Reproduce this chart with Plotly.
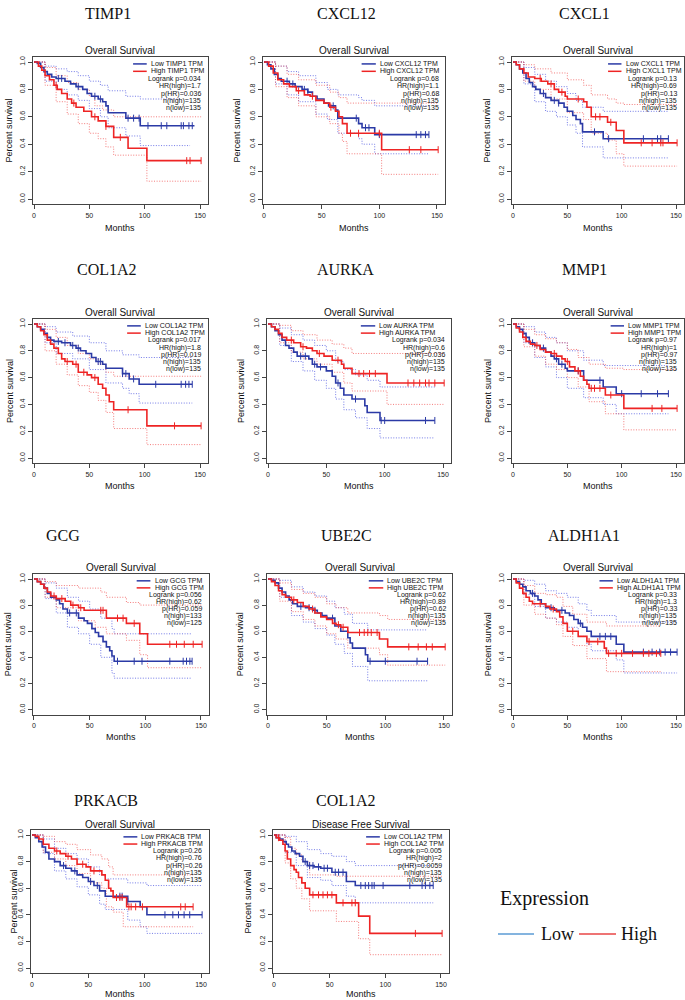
import plotly.graph_objects as go

# ---------------- data ----------------
GENES = ["TIMP1", "CXCL12", "CXCL1", "COL1A2", "AURKA", "MMP1",
         "GCG", "UBE2C", "ALDH1A1", "PRKACB", "COL1A2"]
SUBTITLES = ["Overall Survival"] * 10 + ["Disease Free Survival"]
LOGRANK_P = ["0.034", "0.68", "0.13", "0.017", "0.034", "0.97",
             "0.056", "0.62", "0.33", "0.26", "0.005"]
HR_HIGH = ["1.7", "1.1", "0.69", "1.8", "0.6", "1", "0.62", "0.89", "1.3", "0.76", "2"]
P_HR = ["0.036", "0.68", "0.13", "0.019", "0.036", "0.97",
        "0.059", "0.62", "0.33", "0.26", "0.0059"]
N_HIGH = [135, 135, 135, 135, 135, 135, 133, 135, 135, 135, 135]
N_LOW = [135, 135, 135, 135, 135, 135, 125, 135, 135, 135, 135]
X_TICKS = [0, 50, 100, 150]
Y_TICKS = [0.0, 0.2, 0.4, 0.6, 0.8, 1.0]
Y_TICKTEXT = ["0.0", "0.2", "0.4", "0.6", "0.8", "1.0"]
LEGEND_LABELS = ["Low", "High"]

# each curve: (months, survival) change points, last point = end of follow-up
TIMP1_LOW = [(0, 1), (3, 0.99), (6, 0.96), (9, 0.93), (12, 0.91), (16, 0.89), (20, 0.88), (28, 0.86), (33, 0.84), (38, 0.82), (44, 0.8), (48, 0.77), (52, 0.75), (58, 0.73), (62, 0.71), (65, 0.68), (67, 0.63), (83, 0.59), (96, 0.535), (145, 0.535)]
TIMP1_LOW_CENS = [22, 25, 40, 55, 60, 85, 90, 95, 103, 115, 120, 133, 135, 140, 143]
TIMP1_LOW_UP = [(0, 1), (10, 0.97), (20, 0.95), (30, 0.93), (40, 0.9), (50, 0.86), (60, 0.83), (67, 0.79), (83, 0.75), (96, 0.73), (132, 0.73)]
TIMP1_LOW_DN = [(0, 1), (10, 0.86), (20, 0.8), (30, 0.76), (40, 0.72), (50, 0.66), (60, 0.6), (67, 0.52), (83, 0.46), (96, 0.39), (141, 0.39)]
TIMP1_HIGH = [(0, 1), (4, 0.97), (7, 0.94), (10, 0.9), (14, 0.87), (18, 0.83), (21, 0.8), (25, 0.77), (30, 0.73), (34, 0.7), (38, 0.67), (45, 0.64), (52, 0.6), (58, 0.57), (65, 0.53), (72, 0.45), (85, 0.37), (102, 0.28), (151, 0.28)]
TIMP1_HIGH_CENS = [20, 36, 55, 65, 78, 138, 141, 151]
TIMP1_HIGH_UP = [(0, 1), (10, 0.96), (20, 0.9), (30, 0.85), (40, 0.8), (50, 0.75), (55, 0.68), (62, 0.65), (72, 0.6), (151, 0.6)]
TIMP1_HIGH_DN = [(0, 1), (10, 0.83), (20, 0.71), (30, 0.62), (40, 0.55), (50, 0.48), (58, 0.44), (65, 0.38), (72, 0.32), (102, 0.13), (151, 0.13)]

CXCL12_LOW = [(0, 1), (3, 0.98), (6, 0.95), (9, 0.91), (12, 0.88), (15, 0.86), (22, 0.84), (27, 0.82), (33, 0.8), (38, 0.78), (42, 0.75), (46, 0.73), (52, 0.7), (56, 0.68), (62, 0.65), (64, 0.59), (82, 0.55), (85, 0.52), (96, 0.47), (143, 0.47)]
CXCL12_LOW_CENS = [20, 25, 35, 38, 60, 80, 88, 91, 100, 132, 136, 140, 143]
CXCL12_LOW_UP = [(0, 1), (10, 0.97), (20, 0.93), (30, 0.9), (45, 0.85), (55, 0.8), (64, 0.76), (82, 0.74), (85, 0.72), (96, 0.68), (143, 0.68)]
CXCL12_LOW_DN = [(0, 1), (10, 0.84), (20, 0.76), (30, 0.71), (45, 0.62), (55, 0.58), (64, 0.48), (82, 0.44), (85, 0.4), (96, 0.33), (143, 0.33)]
CXCL12_HIGH = [(0, 1), (4, 0.97), (8, 0.92), (12, 0.87), (17, 0.84), (22, 0.82), (28, 0.79), (35, 0.76), (40, 0.75), (45, 0.72), (52, 0.7), (57, 0.67), (62, 0.64), (65, 0.6), (68, 0.55), (72, 0.48), (102, 0.36), (151, 0.36)]
CXCL12_HIGH_CENS = [30, 42, 58, 75, 82, 100, 126, 136, 151]
CXCL12_HIGH_UP = [(0, 1), (10, 0.97), (20, 0.91), (30, 0.87), (45, 0.83), (57, 0.78), (65, 0.74), (72, 0.7), (151, 0.7)]
CXCL12_HIGH_DN = [(0, 1), (10, 0.82), (20, 0.74), (30, 0.68), (45, 0.6), (57, 0.55), (65, 0.48), (68, 0.42), (72, 0.33), (102, 0.18), (151, 0.18)]

CXCL1_LOW = [(0, 1), (3, 0.98), (6, 0.95), (9, 0.92), (12, 0.88), (15, 0.85), (18, 0.82), (21, 0.8), (25, 0.77), (30, 0.74), (35, 0.72), (42, 0.7), (47, 0.67), (50, 0.64), (55, 0.61), (58, 0.58), (62, 0.55), (64, 0.49), (83, 0.44), (143, 0.44)]
CXCL1_LOW_CENS = [28, 38, 42, 75, 88, 120, 133, 136, 143]
CXCL1_LOW_UP = [(0, 1), (10, 0.96), (20, 0.91), (30, 0.86), (40, 0.82), (50, 0.77), (58, 0.72), (64, 0.67), (83, 0.64), (143, 0.64)]
CXCL1_LOW_DN = [(0, 1), (10, 0.84), (20, 0.71), (30, 0.64), (40, 0.6), (50, 0.54), (58, 0.48), (64, 0.38), (83, 0.3), (143, 0.3)]
CXCL1_HIGH = [(0, 1), (3, 0.98), (6, 0.95), (10, 0.92), (14, 0.89), (20, 0.88), (26, 0.86), (32, 0.84), (38, 0.8), (42, 0.78), (48, 0.75), (50, 0.73), (65, 0.71), (68, 0.67), (72, 0.6), (87, 0.56), (95, 0.5), (102, 0.41), (151, 0.41)]
CXCL1_HIGH_CENS = [25, 35, 45, 60, 76, 80, 90, 118, 128, 136, 138, 151]
CXCL1_HIGH_UP = [(0, 1), (10, 0.98), (20, 0.95), (35, 0.92), (50, 0.87), (65, 0.83), (72, 0.76), (87, 0.73), (95, 0.7), (102, 0.69), (151, 0.69)]
CXCL1_HIGH_DN = [(0, 1), (10, 0.86), (20, 0.8), (35, 0.73), (50, 0.63), (65, 0.58), (72, 0.48), (87, 0.43), (95, 0.33), (102, 0.24), (151, 0.24)]

COL1A2_OS_LOW = [(0, 1), (3, 0.98), (6, 0.96), (9, 0.93), (12, 0.9), (15, 0.88), (18, 0.87), (25, 0.86), (33, 0.84), (38, 0.82), (42, 0.8), (47, 0.78), (52, 0.75), (56, 0.72), (62, 0.7), (65, 0.67), (80, 0.63), (86, 0.59), (95, 0.55), (143, 0.55)]
COL1A2_OS_LOW_CENS = [22, 28, 35, 40, 58, 60, 80, 83, 90, 110, 133, 137, 140, 143]
COL1A2_OS_LOW_UP = [(0, 1), (10, 0.98), (20, 0.94), (35, 0.91), (50, 0.86), (65, 0.8), (80, 0.77), (95, 0.75), (143, 0.75)]
COL1A2_OS_LOW_DN = [(0, 1), (10, 0.86), (20, 0.78), (35, 0.74), (50, 0.66), (65, 0.56), (80, 0.52), (86, 0.48), (95, 0.41), (143, 0.41)]
COL1A2_OS_HIGH = [(0, 1), (3, 0.98), (6, 0.95), (9, 0.92), (12, 0.88), (15, 0.85), (18, 0.82), (22, 0.78), (25, 0.74), (28, 0.72), (35, 0.7), (40, 0.64), (48, 0.62), (52, 0.6), (58, 0.55), (62, 0.52), (65, 0.47), (68, 0.42), (72, 0.36), (102, 0.24), (151, 0.24)]
COL1A2_OS_HIGH_CENS = [30, 38, 45, 55, 85, 127, 151]
COL1A2_OS_HIGH_UP = [(0, 1), (10, 0.96), (20, 0.9), (30, 0.84), (40, 0.78), (50, 0.74), (58, 0.7), (65, 0.64), (72, 0.61), (151, 0.61)]
COL1A2_OS_HIGH_DN = [(0, 1), (10, 0.8), (20, 0.7), (30, 0.62), (40, 0.54), (50, 0.49), (58, 0.43), (65, 0.34), (72, 0.22), (102, 0.1), (151, 0.1)]

AURKA_LOW = [(0, 1), (3, 0.98), (6, 0.95), (9, 0.92), (12, 0.88), (15, 0.84), (18, 0.82), (22, 0.79), (25, 0.76), (35, 0.74), (38, 0.7), (42, 0.68), (50, 0.65), (55, 0.61), (58, 0.56), (62, 0.52), (65, 0.47), (72, 0.44), (83, 0.39), (85, 0.34), (96, 0.28), (143, 0.28)]
AURKA_LOW_CENS = [28, 32, 40, 45, 60, 75, 97, 100, 135, 143]
AURKA_LOW_UP = [(0, 1), (10, 0.97), (20, 0.92), (30, 0.88), (40, 0.84), (50, 0.8), (58, 0.72), (65, 0.66), (75, 0.62), (85, 0.58), (96, 0.53), (143, 0.53)]
AURKA_LOW_DN = [(0, 1), (10, 0.84), (20, 0.72), (30, 0.65), (40, 0.58), (50, 0.52), (58, 0.44), (65, 0.36), (75, 0.3), (85, 0.22), (96, 0.15), (143, 0.15)]
AURKA_HIGH = [(0, 1), (3, 0.98), (6, 0.96), (9, 0.93), (12, 0.9), (16, 0.88), (22, 0.86), (28, 0.83), (33, 0.82), (38, 0.8), (42, 0.78), (48, 0.76), (55, 0.73), (63, 0.7), (65, 0.67), (72, 0.63), (102, 0.56), (151, 0.56)]
AURKA_HIGH_CENS = [20, 30, 44, 60, 78, 82, 87, 92, 120, 125, 130, 135, 138, 143, 151]
AURKA_HIGH_UP = [(0, 1), (10, 0.99), (20, 0.95), (30, 0.92), (42, 0.88), (55, 0.85), (65, 0.82), (72, 0.78), (151, 0.78)]
AURKA_HIGH_DN = [(0, 1), (10, 0.86), (20, 0.79), (30, 0.74), (42, 0.7), (55, 0.64), (65, 0.56), (72, 0.5), (102, 0.4), (151, 0.4)]

MMP1_LOW = [(0, 1), (3, 0.98), (6, 0.96), (9, 0.93), (12, 0.9), (15, 0.86), (20, 0.84), (25, 0.82), (30, 0.79), (35, 0.76), (38, 0.74), (42, 0.7), (48, 0.67), (50, 0.65), (65, 0.58), (83, 0.53), (95, 0.48), (143, 0.48)]
MMP1_LOW_CENS = [18, 28, 40, 45, 60, 80, 100, 118, 133, 143]
MMP1_LOW_UP = [(0, 1), (10, 0.98), (20, 0.94), (30, 0.9), (40, 0.86), (50, 0.8), (65, 0.73), (83, 0.69), (143, 0.69)]
MMP1_LOW_DN = [(0, 1), (10, 0.86), (20, 0.75), (30, 0.68), (40, 0.6), (50, 0.52), (65, 0.45), (83, 0.4), (95, 0.33), (143, 0.33)]
MMP1_HIGH = [(0, 1), (3, 0.97), (6, 0.94), (9, 0.9), (12, 0.87), (16, 0.85), (20, 0.84), (25, 0.81), (30, 0.79), (35, 0.78), (40, 0.76), (45, 0.74), (48, 0.72), (52, 0.68), (57, 0.65), (62, 0.61), (65, 0.58), (68, 0.55), (70, 0.52), (85, 0.47), (102, 0.37), (151, 0.37)]
MMP1_HIGH_CENS = [22, 38, 50, 60, 72, 75, 80, 90, 128, 137, 151]
MMP1_HIGH_UP = [(0, 1), (10, 0.96), (20, 0.92), (30, 0.89), (40, 0.86), (50, 0.81), (60, 0.75), (70, 0.7), (85, 0.67), (102, 0.66), (151, 0.66)]
MMP1_HIGH_DN = [(0, 1), (10, 0.83), (20, 0.76), (30, 0.7), (40, 0.66), (50, 0.6), (60, 0.53), (70, 0.42), (85, 0.33), (102, 0.21), (151, 0.21)]

GCG_LOW = [(0, 1), (3, 0.98), (6, 0.96), (9, 0.93), (12, 0.89), (15, 0.86), (20, 0.84), (23, 0.81), (26, 0.77), (30, 0.74), (40, 0.7), (45, 0.68), (48, 0.66), (52, 0.62), (55, 0.59), (58, 0.56), (62, 0.52), (65, 0.48), (68, 0.45), (70, 0.41), (72, 0.37), (142, 0.37)]
GCG_LOW_CENS = [32, 38, 75, 90, 97, 122, 134, 137, 140, 142]
GCG_LOW_UP = [(0, 1), (10, 0.97), (20, 0.93), (30, 0.86), (40, 0.83), (50, 0.77), (60, 0.7), (70, 0.62), (72, 0.58), (142, 0.58)]
GCG_LOW_DN = [(0, 1), (10, 0.85), (20, 0.74), (30, 0.63), (40, 0.58), (50, 0.5), (60, 0.4), (70, 0.28), (72, 0.24), (142, 0.24)]
GCG_HIGH = [(0, 1), (3, 0.98), (6, 0.96), (9, 0.93), (12, 0.9), (15, 0.87), (20, 0.85), (28, 0.83), (33, 0.8), (40, 0.78), (45, 0.76), (65, 0.7), (83, 0.66), (95, 0.58), (102, 0.5), (151, 0.5)]
GCG_HIGH_CENS = [18, 25, 35, 42, 60, 62, 75, 80, 90, 122, 128, 135, 143, 151]
GCG_HIGH_UP = [(0, 1), (10, 0.98), (20, 0.95), (40, 0.93), (60, 0.9), (65, 0.86), (83, 0.82), (95, 0.8), (151, 0.8)]
GCG_HIGH_DN = [(0, 1), (10, 0.86), (20, 0.78), (40, 0.68), (55, 0.63), (65, 0.58), (83, 0.53), (95, 0.42), (102, 0.32), (151, 0.32)]

UBE2C_LOW = [(0, 1), (3, 0.99), (6, 0.97), (9, 0.93), (12, 0.9), (15, 0.87), (18, 0.84), (21, 0.81), (25, 0.79), (32, 0.78), (38, 0.76), (42, 0.74), (46, 0.72), (50, 0.7), (57, 0.64), (62, 0.6), (68, 0.55), (70, 0.51), (72, 0.47), (83, 0.42), (85, 0.37), (136, 0.37)]
UBE2C_LOW_CENS = [28, 35, 40, 55, 87, 100, 127, 136]
UBE2C_LOW_UP = [(0, 1), (10, 0.99), (20, 0.94), (30, 0.9), (40, 0.87), (50, 0.83), (57, 0.78), (65, 0.73), (72, 0.66), (85, 0.61), (136, 0.61)]
UBE2C_LOW_DN = [(0, 1), (10, 0.86), (20, 0.72), (30, 0.67), (40, 0.62), (50, 0.57), (57, 0.5), (65, 0.43), (72, 0.33), (85, 0.22), (136, 0.22)]
UBE2C_HIGH = [(0, 1), (3, 0.98), (6, 0.95), (9, 0.91), (12, 0.88), (15, 0.86), (20, 0.84), (25, 0.82), (30, 0.79), (35, 0.77), (40, 0.74), (45, 0.71), (50, 0.69), (55, 0.66), (58, 0.65), (62, 0.63), (68, 0.59), (95, 0.54), (102, 0.48), (151, 0.48)]
UBE2C_HIGH_CENS = [22, 38, 60, 64, 78, 82, 85, 88, 93, 120, 128, 135, 140, 151]
UBE2C_HIGH_UP = [(0, 1), (10, 0.97), (20, 0.92), (30, 0.89), (40, 0.86), (50, 0.81), (58, 0.78), (68, 0.74), (95, 0.72), (102, 0.69), (151, 0.69)]
UBE2C_HIGH_DN = [(0, 1), (10, 0.83), (20, 0.75), (30, 0.69), (40, 0.64), (50, 0.58), (58, 0.54), (68, 0.47), (95, 0.42), (102, 0.34), (151, 0.34)]

ALDH1A1_LOW = [(0, 1), (3, 0.98), (6, 0.96), (9, 0.94), (12, 0.91), (16, 0.89), (20, 0.87), (23, 0.84), (26, 0.81), (30, 0.78), (38, 0.76), (48, 0.74), (52, 0.72), (56, 0.69), (60, 0.66), (64, 0.63), (68, 0.6), (72, 0.56), (95, 0.5), (102, 0.44), (151, 0.44)]
ALDH1A1_LOW_CENS = [18, 35, 45, 62, 80, 85, 90, 120, 128, 135, 140, 145, 151]
ALDH1A1_LOW_UP = [(0, 1), (10, 0.99), (20, 0.96), (30, 0.91), (40, 0.89), (50, 0.86), (60, 0.81), (68, 0.76), (72, 0.72), (95, 0.67), (151, 0.67)]
ALDH1A1_LOW_DN = [(0, 1), (10, 0.88), (20, 0.79), (30, 0.7), (40, 0.67), (50, 0.63), (60, 0.56), (68, 0.5), (72, 0.45), (95, 0.38), (102, 0.28), (151, 0.28)]
ALDH1A1_HIGH = [(0, 1), (3, 0.97), (6, 0.93), (9, 0.89), (12, 0.86), (15, 0.83), (18, 0.81), (30, 0.79), (34, 0.77), (40, 0.75), (43, 0.71), (46, 0.66), (50, 0.6), (60, 0.56), (68, 0.52), (84, 0.47), (86, 0.43), (136, 0.43)]
ALDH1A1_HIGH_CENS = [25, 37, 55, 70, 78, 88, 95, 100, 110, 120, 125, 132, 136]
ALDH1A1_HIGH_UP = [(0, 1), (10, 0.95), (20, 0.89), (30, 0.88), (40, 0.86), (46, 0.79), (55, 0.73), (68, 0.67), (86, 0.64), (136, 0.64)]
ALDH1A1_HIGH_DN = [(0, 1), (10, 0.8), (20, 0.73), (30, 0.7), (40, 0.65), (46, 0.56), (55, 0.49), (68, 0.39), (86, 0.29), (136, 0.29)]

PRKACB_LOW = [(0, 1), (3, 0.98), (6, 0.95), (9, 0.91), (12, 0.87), (15, 0.82), (20, 0.8), (25, 0.77), (30, 0.75), (35, 0.73), (40, 0.7), (45, 0.68), (50, 0.65), (55, 0.62), (60, 0.58), (65, 0.54), (85, 0.5), (96, 0.46), (102, 0.4), (151, 0.4)]
PRKACB_LOW_CENS = [28, 38, 52, 58, 78, 80, 85, 118, 125, 130, 135, 140, 151]
PRKACB_LOW_UP = [(0, 1), (10, 0.97), (20, 0.9), (30, 0.86), (40, 0.82), (50, 0.76), (60, 0.7), (65, 0.67), (85, 0.64), (102, 0.62), (151, 0.62)]
PRKACB_LOW_DN = [(0, 1), (10, 0.86), (20, 0.73), (30, 0.67), (40, 0.61), (50, 0.55), (60, 0.48), (65, 0.44), (85, 0.36), (96, 0.31), (102, 0.26), (151, 0.26)]
PRKACB_HIGH = [(0, 1), (3, 0.99), (6, 0.97), (10, 0.93), (15, 0.9), (20, 0.88), (25, 0.86), (30, 0.84), (35, 0.82), (40, 0.78), (48, 0.76), (52, 0.73), (62, 0.7), (65, 0.66), (68, 0.6), (70, 0.58), (72, 0.53), (84, 0.46), (143, 0.46)]
PRKACB_HIGH_CENS = [22, 32, 45, 55, 75, 78, 80, 86, 88, 92, 98, 132, 136, 143]
PRKACB_HIGH_UP = [(0, 1), (10, 0.99), (20, 0.95), (30, 0.93), (40, 0.89), (52, 0.85), (62, 0.82), (68, 0.76), (72, 0.7), (143, 0.7)]
PRKACB_HIGH_DN = [(0, 1), (10, 0.87), (20, 0.82), (30, 0.77), (40, 0.71), (52, 0.64), (62, 0.6), (66, 0.46), (72, 0.42), (81, 0.31), (143, 0.31)]

COL1A2_DFS_LOW = [(0, 1), (2, 0.98), (5, 0.97), (8, 0.95), (11, 0.93), (13, 0.91), (16, 0.88), (19, 0.86), (23, 0.84), (26, 0.8), (30, 0.77), (36, 0.76), (42, 0.75), (52, 0.72), (65, 0.65), (73, 0.62), (143, 0.62)]
COL1A2_DFS_LOW_CENS = [28, 32, 35, 40, 45, 48, 55, 58, 62, 78, 82, 85, 88, 90, 98, 122, 133, 136, 140, 143]
COL1A2_DFS_LOW_UP = [(0, 1), (10, 0.99), (20, 0.95), (30, 0.89), (42, 0.86), (52, 0.84), (65, 0.8), (73, 0.77), (143, 0.77)]
COL1A2_DFS_LOW_DN = [(0, 1), (10, 0.87), (20, 0.77), (30, 0.68), (42, 0.66), (52, 0.62), (65, 0.54), (73, 0.49), (143, 0.49)]
COL1A2_DFS_HIGH = [(0, 1), (2, 0.98), (5, 0.96), (8, 0.93), (10, 0.88), (12, 0.82), (15, 0.77), (18, 0.74), (20, 0.72), (22, 0.68), (25, 0.64), (28, 0.6), (32, 0.55), (56, 0.49), (76, 0.39), (86, 0.26), (151, 0.26)]
COL1A2_DFS_HIGH_CENS = [4, 35, 40, 44, 48, 52, 62, 70, 73, 127, 151]
COL1A2_DFS_HIGH_UP = [(0, 1), (10, 0.98), (15, 0.9), (20, 0.85), (25, 0.8), (32, 0.7), (56, 0.69), (151, 0.69)]
COL1A2_DFS_HIGH_DN = [(0, 1), (10, 0.79), (15, 0.67), (20, 0.6), (25, 0.52), (32, 0.43), (56, 0.35), (76, 0.22), (86, 0.1), (151, 0.1)]

LOW = [TIMP1_LOW, CXCL12_LOW, CXCL1_LOW, COL1A2_OS_LOW, AURKA_LOW, MMP1_LOW, GCG_LOW, UBE2C_LOW, ALDH1A1_LOW, PRKACB_LOW, COL1A2_DFS_LOW]
LOW_CENS = [TIMP1_LOW_CENS, CXCL12_LOW_CENS, CXCL1_LOW_CENS, COL1A2_OS_LOW_CENS, AURKA_LOW_CENS, MMP1_LOW_CENS, GCG_LOW_CENS, UBE2C_LOW_CENS, ALDH1A1_LOW_CENS, PRKACB_LOW_CENS, COL1A2_DFS_LOW_CENS]
LOW_UP = [TIMP1_LOW_UP, CXCL12_LOW_UP, CXCL1_LOW_UP, COL1A2_OS_LOW_UP, AURKA_LOW_UP, MMP1_LOW_UP, GCG_LOW_UP, UBE2C_LOW_UP, ALDH1A1_LOW_UP, PRKACB_LOW_UP, COL1A2_DFS_LOW_UP]
LOW_DN = [TIMP1_LOW_DN, CXCL12_LOW_DN, CXCL1_LOW_DN, COL1A2_OS_LOW_DN, AURKA_LOW_DN, MMP1_LOW_DN, GCG_LOW_DN, UBE2C_LOW_DN, ALDH1A1_LOW_DN, PRKACB_LOW_DN, COL1A2_DFS_LOW_DN]
HIGH = [TIMP1_HIGH, CXCL12_HIGH, CXCL1_HIGH, COL1A2_OS_HIGH, AURKA_HIGH, MMP1_HIGH, GCG_HIGH, UBE2C_HIGH, ALDH1A1_HIGH, PRKACB_HIGH, COL1A2_DFS_HIGH]
HIGH_CENS = [TIMP1_HIGH_CENS, CXCL12_HIGH_CENS, CXCL1_HIGH_CENS, COL1A2_OS_HIGH_CENS, AURKA_HIGH_CENS, MMP1_HIGH_CENS, GCG_HIGH_CENS, UBE2C_HIGH_CENS, ALDH1A1_HIGH_CENS, PRKACB_HIGH_CENS, COL1A2_DFS_HIGH_CENS]
HIGH_UP = [TIMP1_HIGH_UP, CXCL12_HIGH_UP, CXCL1_HIGH_UP, COL1A2_OS_HIGH_UP, AURKA_HIGH_UP, MMP1_HIGH_UP, GCG_HIGH_UP, UBE2C_HIGH_UP, ALDH1A1_HIGH_UP, PRKACB_HIGH_UP, COL1A2_DFS_HIGH_UP]
HIGH_DN = [TIMP1_HIGH_DN, CXCL12_HIGH_DN, CXCL1_HIGH_DN, COL1A2_OS_HIGH_DN, AURKA_HIGH_DN, MMP1_HIGH_DN, GCG_HIGH_DN, UBE2C_HIGH_DN, ALDH1A1_HIGH_DN, PRKACB_HIGH_DN, COL1A2_DFS_HIGH_DN]

# ---------------- layout geometry (page pixels) ----------------
W, H = 685, 1000
X0 = [34, 264, 513, 34, 268, 513, 34, 268, 513, 32, 274]
X150 = [200, 437, 676, 200, 443, 676, 201, 444, 676, 201, 441]
ROW_Y1 = [62, 324, 579, 835]
ROW_Y0 = [199, 458, 709.5, 968]
ROW_OF = [0, 0, 0, 1, 1, 1, 2, 2, 2, 3, 3]
GENE_X = [108, 346, 584, 107, 345, 584, 63, 346, 584, 106, 346]
GENE_Y = [13, 269, 535, 800]
SUB_Y = [50, 312, 567, 824]
MONTHS_Y = [228, 486, 737, 994]
YLAB_X = [8, 236, 486, 10, 241, 488, 8, 240, 488, 13, 247]
LEG_LEFT = [0.663, 0.632, 0.65, 0.629, 0.6, 0.665, 0.68, 0.64, 0.6, 0.61, 0.62]

BLUE = "#2b3aa6"
RED = "#ee2424"
BLUE_CI = "rgba(80,90,225,0.8)"
RED_CI = "rgba(240,80,80,0.75)"
SANS = "Liberation Sans"
SERIF = "Liberation Serif"


def px(x):
    return x / W


def py(y):
    return 1 - y / H


def surv_at(curve, t):
    s = curve[0][1]
    for tt, ss in curve:
        if tt <= t:
            s = ss
    return s


def note(text, x, y, size, family=SANS, xanchor="center", xref="paper", yref="paper", angle=0):
    return dict(text=text, x=x, y=y, xref=xref, yref=yref, xanchor=xanchor,
                yanchor="middle", showarrow=False, textangle=angle,
                font=dict(family=family, size=size, color="#111"))


fig = go.Figure()
annotations = []
shapes = []
layout_axes = {}

for i in range(11):
    k = i + 1
    xs = "x" if k == 1 else f"x{k}"
    ys = "y" if k == 1 else f"y{k}"
    r = ROW_OF[i]
    ppm = (X150[i] - X0[i]) / 150.0
    left = X0[i] - 1 * ppm
    right = X0[i] + 157 * ppm
    ppu = ROW_Y0[r] - ROW_Y1[r]
    top = ROW_Y1[r] - 0.04 * ppu
    bot = ROW_Y0[r] + 0.04 * ppu

    axstyle = dict(showline=True, mirror=True, linecolor="#444", linewidth=1,
                   ticks="outside", ticklen=4, tickwidth=1, tickcolor="#444",
                   showgrid=False, zeroline=False, fixedrange=True,
                   tickfont=dict(size=7, family=SANS, color="#222"))
    layout_axes["xaxis" if k == 1 else f"xaxis{k}"] = dict(
        domain=[px(left), px(right)], range=[-1, 157], anchor=ys,
        tickvals=X_TICKS, **axstyle)
    layout_axes["yaxis" if k == 1 else f"yaxis{k}"] = dict(
        domain=[py(bot), py(top)], range=[-0.04, 1.04], anchor=xs,
        tickvals=Y_TICKS, ticktext=Y_TICKTEXT, tickangle=-90, **axstyle)

    for band, col in ((LOW_UP[i], BLUE_CI), (LOW_DN[i], BLUE_CI),
                      (HIGH_UP[i], RED_CI), (HIGH_DN[i], RED_CI)):
        fig.add_trace(go.Scatter(x=[p[0] for p in band], y=[p[1] for p in band],
                                 xaxis=xs, yaxis=ys, mode="lines",
                                 line=dict(color=col, width=1, dash="1px,1.6px", shape="hv"),
                                 hoverinfo="skip"))
    for curve, cens, col in ((LOW[i], LOW_CENS[i], BLUE), (HIGH[i], HIGH_CENS[i], RED)):
        fig.add_trace(go.Scatter(x=[p[0] for p in curve], y=[p[1] for p in curve],
                                 xaxis=xs, yaxis=ys, mode="lines",
                                 line=dict(color=col, width=1.6, shape="hv")))
        fig.add_trace(go.Scatter(x=cens, y=[surv_at(curve, t) for t in cens],
                                 xaxis=xs, yaxis=ys, mode="markers",
                                 marker=dict(symbol="line-ns-open", size=5, color=col,
                                             line=dict(color=col, width=1))))

    cx = (left + right) / 2
    annotations.append(note(GENES[i], px(GENE_X[i]), py(GENE_Y[r]), 16, SERIF))
    annotations.append(note(SUBTITLES[i], px(cx), py(SUB_Y[r]), 10))
    annotations.append(note("Months", px(cx), py(MONTHS_Y[r]), 9))
    annotations.append(note("Percent survival", px(YLAB_X[i]), py((top + bot) / 2), 9, angle=-90))

    dx = f"{xs} domain"
    dy = f"{ys} domain"
    lx = LEG_LEFT[i]
    for j, (lab, col) in enumerate(((f"Low {GENES[i]} TPM", BLUE),
                                    (f"High {GENES[i]} TPM", RED))):
        yy = 1 - (0.05 + 0.05 * j)
        shapes.append(dict(type="line", xref=dx, yref=dy, x0=lx - 0.09, x1=lx - 0.012,
                           y0=yy, y1=yy, line=dict(color=col, width=1.5)))
        annotations.append(note(lab, lx, yy, 7, xanchor="left", xref=dx, yref=dy))
    stats = [f"Logrank p={LOGRANK_P[i]}", f"HR(high)={HR_HIGH[i]}",
             f"p(HR)={P_HR[i]}", f"n(high)={N_HIGH[i]}", f"n(low)={N_LOW[i]}"]
    for j, s in enumerate(stats):
        yy = 1 - (0.15 + 0.05 * j)
        annotations.append(note(s, 0.975, yy, 7, xanchor="right", xref=dx, yref=dy))

# overall legend
annotations.append(note("Expression", px(498), py(898), 20, SERIF, xanchor="left"))
shapes.append(dict(type="line", xref="paper", yref="paper", x0=px(498), x1=px(534),
                   y0=py(934), y1=py(934), line=dict(color="#5b9bd5", width=1.5)))
annotations.append(note(LEGEND_LABELS[0], px(539), py(934), 18, SERIF, xanchor="left"))
shapes.append(dict(type="line", xref="paper", yref="paper", x0=px(579), x1=px(616),
                   y0=py(934), y1=py(934), line=dict(color="#e84646", width=1.5)))
annotations.append(note(LEGEND_LABELS[1], px(619), py(934), 18, SERIF, xanchor="left"))

fig.update_layout(width=W, height=H, margin=dict(l=0, r=0, t=0, b=0),
                  paper_bgcolor="white", plot_bgcolor="white", showlegend=False,
                  annotations=annotations, shapes=shapes, **layout_axes)

# place the figure at the very top-left of the page (no default body margin)
fig.write_html("out.html", config={"displayModeBar": False},
               post_script="document.body.style.margin='0px';")
